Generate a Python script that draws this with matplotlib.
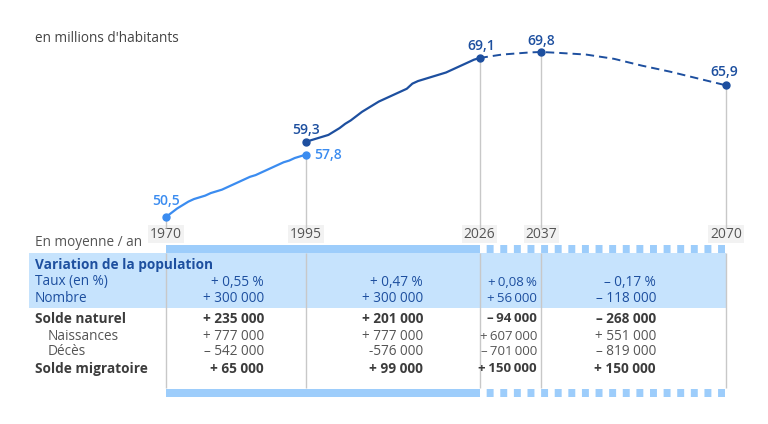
import matplotlib.pyplot as plt
from matplotlib.patches import Rectangle

plt.rcParams["font.family"] = ["Open Sans", "DejaVu Sans"]
plt.rcParams["lines.scale_dashes"] = False

# --- Data ---------------------------------------------------------------------

hist_old_years = list(range(1970, 1996))
hist_old_vals = [50.5, 51.0, 51.5, 51.9, 52.3, 52.6, 52.8, 53.0, 53.3, 53.5,
                 53.7, 54.0, 54.3, 54.6, 54.9, 55.2, 55.4, 55.7, 56.0, 56.3,
                 56.6, 56.9, 57.1, 57.4, 57.6, 57.8]

hist_new_years = list(range(1995, 2027))
hist_new_vals = [59.3, 59.5, 59.7, 59.9, 60.1, 60.5, 60.9, 61.4, 61.8, 62.3,
                 62.8, 63.2, 63.6, 64.0, 64.3, 64.6, 64.9, 65.2, 65.5, 66.1,
                 66.4, 66.6, 66.8, 67.0, 67.2, 67.4, 67.7, 68.0, 68.3, 68.6,
                 68.9, 69.1]

proj_years = [2026, 2030, 2035, 2037, 2040, 2045, 2050, 2055, 2060, 2065, 2070]
proj_vals = [69.1, 69.5, 69.75, 69.8, 69.7, 69.5, 69.0, 68.2, 67.5, 66.7, 65.9]

tick_years = [1970, 1995, 2026, 2037, 2070]

row_labels = ["Variation de la population", "Taux (en %)", "Nombre",
              "Solde naturel", "Naissances", "Décès", "Solde migratoire"]
col1 = ["+ 0,55 %", "+ 300 000", "+ 235 000", "+ 777 000", "– 542 000", "+ 65 000"]
col2 = ["+ 0,47 %", "+ 300 000", "+ 201 000", "+ 777 000", "-576 000", "+ 99 000"]
col3 = ["+ 0,08 %", "+ 56 000", "– 94 000", "+ 607 000", "– 701 000", "+ 150 000"]
col4 = ["– 0,17 %", "– 118 000", "– 268 000", "+ 551 000", "– 819 000", "+ 150 000"]

# --- Style --------------------------------------------------------------------

LIGHT = "#3b8cf0"
DARK = "#1d4f9f"
GRID = "#c8c8c8"
FILL = "#c6e3fd"
BAND = "#9dcdfb"
TXT = "#3c3c3c"
FS = 9.8

fig = plt.figure(figsize=(7.68, 4.24), dpi=100)

# table layer, pixel coordinates (y grows downward)
tx = fig.add_axes([0, 0, 1, 1], zorder=0)
tx.set_xlim(0, 768)
tx.set_ylim(424, 0)
tx.axis("off")

# chart layer, years / millions
ax = fig.add_axes([0, 0, 1, 1], zorder=1)
ax.set_xlim(1940.36, 2077.5)
ax.set_ylim(26.29, 75.88)
ax.axis("off")
ax.patch.set_alpha(0)


def yr2px(y):
    return ax.transData.transform((y, 0))[0]


# --- Chart --------------------------------------------------------------------

base = 49.2
for yr, v in [(1970, 50.5), (1995, 57.8), (2026, 69.1), (2037, 69.8), (2070, 65.9)]:
    ax.vlines(yr, base, v, color=GRID, lw=1, zorder=1)

ax.plot(hist_old_years, hist_old_vals, color=LIGHT, lw=1.6, zorder=3)
ax.plot(hist_new_years, hist_new_vals, color=DARK, lw=1.6, zorder=3)
ax.plot(proj_years, proj_vals, color=DARK, lw=1.4, zorder=3,
        linestyle=(0, (6.0, 3.6)))

ax.plot([hist_old_years[0], hist_old_years[-1]], [hist_old_vals[0], hist_old_vals[-1]],
        "o", color=LIGHT, ms=5, zorder=4)
ax.plot([1995, 2026, 2037, 2070], [59.3, 69.1, 69.8, 65.9], "o", color=DARK, ms=5, zorder=4)

lab = dict(textcoords="offset points", fontsize=10, fontweight="semibold",
           va="center")
ax.annotate("50,5", (1970, 50.5), xytext=(0, 11.5), ha="center", color=LIGHT, **lab)
ax.annotate("57,8", (1995, 57.8), xytext=(6, 0), ha="left", color=LIGHT, **lab)
ax.annotate("59,3", (1995, 59.3), xytext=(0, 8.5), ha="center", color=DARK, **lab)
ax.annotate("69,1", (2026, 69.1), xytext=(1, 8.5), ha="center", color=DARK, **lab)
ax.annotate("69,8", (2037, 69.8), xytext=(0, 8), ha="center", color=DARK, **lab)
ax.annotate("65,9", (2070, 65.9), xytext=(-1, 9.5), ha="center", color=DARK, **lab)

for yr in tick_years:
    tx.text(yr2px(yr), 234, str(yr), ha="center", va="center", fontsize=10,
            color="#555555",
            bbox=dict(boxstyle="square,pad=0.12", fc="#f2f2f2", ec="none"))

tx.text(35, 38, "en millions d'habitants", ha="left", va="center",
        fontsize=FS, color="#444444")

# --- Table --------------------------------------------------------------------

x_end = yr2px(2070)
tx.add_patch(Rectangle((29, 253), x_end - 29, 55, fc=FILL, ec="none", zorder=1))

for yr in tick_years:
    tx.vlines(yr2px(yr), 253, 388, color=GRID, lw=1, zorder=2)

lw_band = 8 * 0.72
for yb in (249, 392.5):
    tx.hlines(yb, yr2px(1970), yr2px(2026), color=BAND, lw=lw_band, zorder=3)
    tx.hlines(yb, yr2px(2026), x_end, color=BAND, lw=lw_band, zorder=3,
              linestyle=(5.0, (5.0, 4.8)), capstyle="butt")

tx.text(35, 242, "En moyenne / an", ha="left", va="center", fontsize=FS, color="#555555")

row_y = [265, 282, 298.5, 319, 336, 351.5, 369]
row_x = [35, 35, 35, 35, 48, 48, 35]
row_style = [(DARK, "bold"), (DARK, "normal"), (DARK, "normal"),
             (TXT, "bold"), ("#555555", "normal"), ("#555555", "normal"), (TXT, "bold")]
for label, y, x, (c, w) in zip(row_labels, row_y, row_x, row_style):
    tx.text(x, y, label, ha="left", va="center", fontsize=FS, color=c,
            fontweight=w, zorder=4)

col_right = [264, 423, 537, 656]
for i, (xr, col) in enumerate(zip(col_right, [col1, col2, col3, col4])):
    for val, y, (c, w) in zip(col, row_y[1:], row_style[1:]):
        fs = FS
        if i == 2:  # narrow column between 2026 and 2037
            val = val.replace(" ", "\u2009")
            fs = 9.5
        tx.text(xr, y, val, ha="right", va="center", fontsize=fs, color=c,
                fontweight=w, zorder=4)

fig.savefig("out.png", dpi=100)
